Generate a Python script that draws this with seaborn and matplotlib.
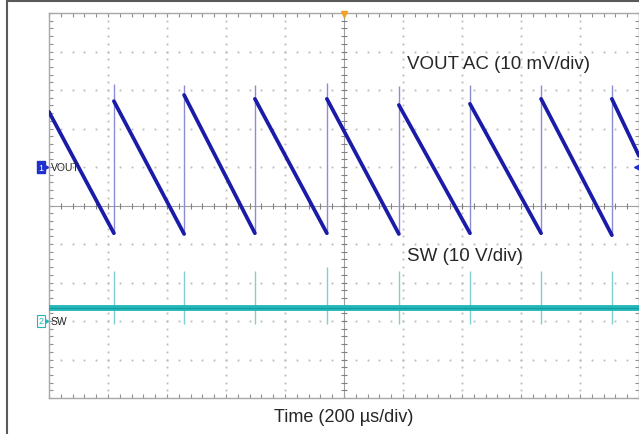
import numpy as np
import pandas as pd
import seaborn as sns
import matplotlib.pyplot as plt
from matplotlib.patches import Rectangle

spike_t = [220, 458, 698, 942, 1186, 1427, 1668, 1908]
vout_top = [17.1, 18.7, 17.7, 17.7, 16.1, 16.4, 17.7, 17.7]        # mV, ramp start after each jump
vout_bottom = [-17.2, -17.4, -17.2, -17.2, -17.4, -17.2, -17.2, -17.7]  # mV, ramp end just before jump
vout_spike = [21.6, 21.4, 21.2, 21.8, 21.0, 21.4, 21.4, 21.2]       # mV, top of thin spike
vout_start = 14.3   # mV at t = 0
vout_end = 2.9      # mV at t = 2000
sw_level = 3.4      # V, flat part of SW trace
sw_spike_hi = [13.0, 13.0, 13.0, 14.0, 13.0, 13.0, 13.0, 13.0]     # V
sw_spike_lo = [-0.8, -0.8, -0.8, -0.8, -0.8, -0.8, -0.8, -0.8]     # V

t_end = 2000
vout_pos = 1    # channel 1 position, div
sw_pos = -3     # channel 2 position, div
vout_scale = 10  # mV/div
sw_scale = 10    # V/div

# ramp segments, one per cycle
rows = []
t0s = [0] + spike_t
v0s = [vout_start] + vout_top
t1s = spike_t + [t_end]
v1s = vout_bottom + [vout_end]
for i in range(len(t0s)):
    rows.append((i, t0s[i], v0s[i]))
    rows.append((i, t1s[i], v1s[i]))
ramps = pd.DataFrame(rows, columns=['cycle', 't', 'mv'])
ramps['div'] = ramps['mv'] / vout_scale + vout_pos

sw = pd.DataFrame({'t': [0, t_end], 'v': [sw_level, sw_level]})
sw['div'] = sw['v'] / sw_scale + sw_pos

sns.set_style("white")
plt.rcParams['font.family'] = ['Liberation Sans', 'DejaVu Sans']

fig = plt.figure(figsize=(6.39, 4.35), dpi=100)
ax = fig.add_axes([49/639, 36/435, 590/639, 385/435])
ax.set_xlim(0, t_end)
ax.set_ylim(-5, 5)

# scope graticule: dotted major lines, solid centre cross
grid_c = '#bababa'
minor_x = np.arange(0, t_end + 1, 40)
minor_y = np.arange(-5, 5.01, 0.2)
for gx in range(200, t_end, 200):
    if gx == 1000:
        continue
    ax.plot([gx] * len(minor_y), minor_y, ls='none', marker='s', ms=1.3, mew=0, color=grid_c, zorder=1)
for gy in range(-4, 5):
    if gy == 0:
        continue
    ax.plot(minor_x, [gy] * len(minor_x), ls='none', marker='s', ms=1.3, mew=0, color=grid_c, zorder=1)
ax.axvline(1000, color='#a0a0a0', lw=0.8, zorder=1)
ax.axhline(0, color='#a0a0a0', lw=0.8, zorder=1)
ax.plot(minor_x, np.zeros(len(minor_x)), ls='none', marker='|', ms=5, mew=0.8, color='#808080', zorder=1)
ax.plot(np.full(len(minor_y), 1000), minor_y, ls='none', marker='_', ms=5, mew=0.8, color='#808080', zorder=1)

ax.set_xticks([])
ax.set_yticks([])
ax.set_xticks(minor_x, minor=True)
ax.set_yticks(minor_y, minor=True)
ax.tick_params(which='both', direction='in', length=3, width=0.8, color='#909090',
               top=True, right=True, bottom=True, left=True,
               labelbottom=False, labelleft=False)
for s in ax.spines.values():
    s.set_color('#a8a8a8')
    s.set_linewidth(1)

# thin jump lines
ax.vlines(spike_t, np.array(vout_bottom) / vout_scale + vout_pos,
          np.array(vout_spike) / vout_scale + vout_pos, color='#8c8cd2', lw=1, zorder=3)
ax.vlines(spike_t, np.array(sw_spike_lo) / sw_scale + sw_pos,
          np.array(sw_spike_hi) / sw_scale + sw_pos, color='#7fd0d0', lw=1, zorder=3)

# traces
sns.lineplot(data=ramps, x='t', y='div', units='cycle', estimator=None, sort=False,
             color='#1a1ca8', lw=2.7, ax=ax, zorder=4)
sns.lineplot(data=sw, x='t', y='div', estimator=None, color='#22b6b8', lw=4.2, ax=ax, zorder=4)
sns.lineplot(data=sw, x='t', y='div', estimator=None, color='#139598', lw=0.6, ax=ax, zorder=5)
ax.set_xlabel('')
ax.set_ylabel('')

# annotations
ax.text(1214, 3.7, "VOUT AC (10 mV/div)", fontsize=13.5, va='center', ha='left', zorder=6)
ax.text(1214, -1.31, "SW (10 V/div)", fontsize=13.5, va='center', ha='left', zorder=6)

ax.text(-27, vout_pos, "1", fontsize=6.5, color='white', ha='center', va='center', clip_on=False,
        bbox=dict(boxstyle='square,pad=0.2', fc='#2030d0', ec='#2030d0'))
ax.plot([-11], [vout_pos], marker='>', ms=3.5, color='#2030d0', clip_on=False)
ax.text(7, vout_pos, "VOUT", fontsize=7.5, ha='left', va='center', zorder=6)
ax.plot([t_end - 8], [vout_pos], marker='<', ms=4, color='#2030d0', clip_on=False, zorder=6)

ax.text(-27, sw_pos, "2", fontsize=6.5, color='#22b6b8', ha='center', va='center', clip_on=False,
        bbox=dict(boxstyle='square,pad=0.2', fc='white', ec='#22b6b8', lw=0.8))
ax.plot([-11], [sw_pos], marker='>', ms=3.5, color='#22b6b8', clip_on=False)
ax.text(7, sw_pos, "SW", fontsize=7.5, ha='left', va='center', zorder=6)

ax.plot([1000], [4.97], marker='v', ms=5, color='#f5a020', clip_on=False, zorder=6)

fig.text(344/639, 1 - 418/435, "Time (200 µs/div)", fontsize=13, ha='center', va='center')

fig.add_artist(Rectangle((7/639, -0.1), 1.1, 1.1 - 2/435, transform=fig.transFigure,
                         fill=False, ec='#5a5a5a', lw=1.5))

fig.savefig('out.png', dpi=100)
